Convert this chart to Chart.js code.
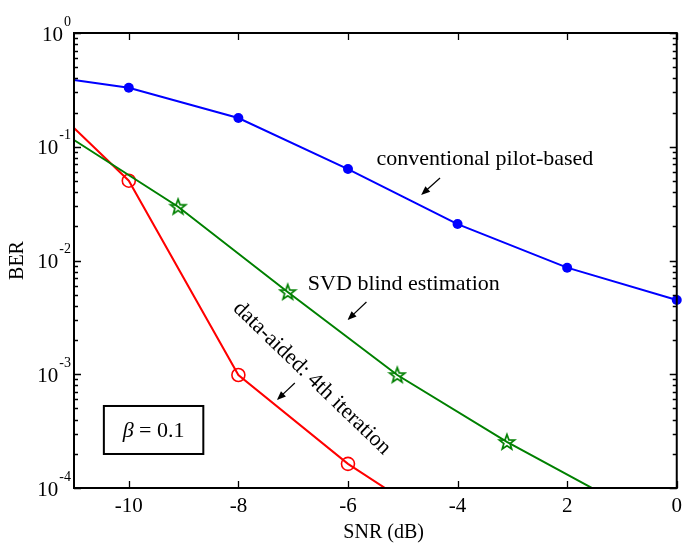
<!DOCTYPE html>
<html><head><meta charset="utf-8">
<script src="https://cdn.jsdelivr.net/npm/chart.js@4/dist/chart.umd.min.js"></script>
<style>html,body{margin:0;padding:0;background:#fff}#wrap{width:688px;height:544px}</style>
</head><body><div id="wrap"><canvas id="c" width="688" height="544"></canvas></div>
<script>
// ---- data ----
const xTickValues = [-10, -8, -6, -4, -2, 0];
const xTickLabels = ['-10', '-8', '-6', '-4', '2', '0'];
const yDecades = [0, -1, -2, -3, -4];

const snrPilot = [-11, -10, -8, -6, -4, -2, 0];
const berPilot = [0.386, 0.33, 0.179, 0.0637, 0.0209, 0.00865, 0.0045];

const snrSVD = [-11, -9.1, -7.1, -5.1, -3.1, -1];
const berSVD = [0.1146, 0.0297, 0.00528, 0.000984, 0.000254, 0.000072];

const snrAided = [-11, -10, -8, -6, -5];
const berAided = [0.146, 0.0503, 0.000985, 0.000163, 0.000079];

const seriesNames = ['conventional pilot-based', 'SVD blind estimation', 'data-aided: 4th iteration'];
const xTitle = 'SNR (dB)';
const betaSymbol = 'β';
const betaText = ' = 0.1';

// ---- annotation placement (data coordinates) ----
const notePilot = {x: -5.48, y: Math.pow(10, -1.16), ax1: -4.32, ay1: Math.pow(10, -1.275), ax2: -4.665, ay2: Math.pow(10, -1.424)};
const noteSVD = {x: -3.23, y: Math.pow(10, -2.259), ax1: -5.663, ay1: Math.pow(10, -2.365), ax2: -6.008, ay2: Math.pow(10, -2.523)};
const noteAided = {x: -6.66, y: Math.pow(10, -3.035), angle: 44, ax1: -6.97, ay1: Math.pow(10, -3.077), ax2: -7.297, ay2: Math.pow(10, -3.226)};
const betaBox = {x1: -10.455, x2: -8.64, y1: Math.pow(10, -3.279), y2: Math.pow(10, -3.701)};
const xTitleCenter = -5.35;

const FONT = 'Liberation Serif, Times New Roman, serif';
const GREEN = '#008000';

function makeStar(color) {
  const c = document.createElement('canvas');
  c.width = 20; c.height = 20;
  const g = c.getContext('2d');
  g.strokeStyle = color; g.lineWidth = 1.7; g.lineJoin = 'miter';
  g.beginPath();
  for (let i = 0; i < 10; i++) {
    const r = (i % 2) ? 3.3 : 8;
    const a = -Math.PI / 2 + i * Math.PI / 5;
    const px = 10 + r * Math.cos(a), py = 10.5 + r * Math.sin(a);
    if (i === 0) g.moveTo(px, py); else g.lineTo(px, py);
  }
  g.closePath(); g.stroke();
  return c;
}
const starImg = makeStar(GREEN);

function pts(xs, ys) { return xs.map((x, i) => ({x: x, y: ys[i]})); }

function arrow(ctx, x1, y1, x2, y2) {
  ctx.save();
  ctx.strokeStyle = '#000'; ctx.fillStyle = '#000'; ctx.lineWidth = 1.2;
  const ang = Math.atan2(y2 - y1, x2 - x1);
  const L = 9, W = 3.6;
  ctx.beginPath(); ctx.moveTo(x1, y1);
  ctx.lineTo(x2 - (L - 2) * Math.cos(ang), y2 - (L - 2) * Math.sin(ang)); ctx.stroke();
  ctx.beginPath();
  ctx.moveTo(x2, y2);
  ctx.lineTo(x2 - L * Math.cos(ang) + W * Math.sin(ang), y2 - L * Math.sin(ang) - W * Math.cos(ang));
  ctx.lineTo(x2 - L * Math.cos(ang) - W * Math.sin(ang), y2 - L * Math.sin(ang) + W * Math.cos(ang));
  ctx.closePath(); ctx.fill();
  ctx.restore();
}

const framePlugin = {
  id: 'frame',
  afterDraw(chart) {
    const ctx = chart.ctx;
    const xs = chart.scales.x, ys = chart.scales.y;
    const a = chart.chartArea;
    ctx.save();
    ctx.strokeStyle = '#000'; ctx.lineWidth = 1.3;
    // ticks
    ctx.beginPath();
    xTickValues.forEach(v => {
      const px = Math.round(xs.getPixelForValue(v)) + 0.5;
      ctx.moveTo(px, a.bottom); ctx.lineTo(px, a.bottom - 7);
      ctx.moveTo(px, a.top); ctx.lineTo(px, a.top + 7);
    });
    for (let k = -4; k <= 0; k++) {
      const py = Math.round(ys.getPixelForValue(Math.pow(10, k))) + 0.5;
      ctx.moveTo(a.left, py); ctx.lineTo(a.left + 7, py);
      ctx.moveTo(a.right, py); ctx.lineTo(a.right - 7, py);
      if (k < 0) {
        for (let m = 2; m <= 9; m++) {
          const q = Math.round(ys.getPixelForValue(m * Math.pow(10, k))) + 0.5;
          ctx.moveTo(a.left, q); ctx.lineTo(a.left + 4, q);
          ctx.moveTo(a.right, q); ctx.lineTo(a.right - 4, q);
        }
      }
    }
    ctx.stroke();
    // box
    ctx.lineWidth = 2;
    ctx.strokeRect(a.left, a.top, a.right - a.left, a.bottom - a.top);

    // y tick labels 10^k
    ctx.fillStyle = '#000';
    ctx.textBaseline = 'middle';
    yDecades.forEach(k => {
      const py = ys.getPixelForValue(Math.pow(10, k));
      ctx.font = '14px ' + FONT;
      const e = String(k);
      const ew = ctx.measureText(e).width;
      ctx.textAlign = 'right';
      ctx.fillText(e, 71, py - 11);
      ctx.font = '21px ' + FONT;
      ctx.fillText('10', 71 - ew - 1, py + 2);
    });

    // x title
    ctx.font = '20px ' + FONT;
    ctx.textAlign = 'center';
    ctx.fillText(xTitle, xs.getPixelForValue(xTitleCenter), a.bottom + 45);

    // annotations
    ctx.font = '22px ' + FONT;
    ctx.textBaseline = 'alphabetic';
    ctx.textAlign = 'left';
    ctx.fillText(seriesNames[0], xs.getPixelForValue(notePilot.x), ys.getPixelForValue(notePilot.y));
    arrow(ctx, xs.getPixelForValue(notePilot.ax1), ys.getPixelForValue(notePilot.ay1), xs.getPixelForValue(notePilot.ax2), ys.getPixelForValue(notePilot.ay2));

    ctx.textAlign = 'right';
    ctx.fillText(seriesNames[1], xs.getPixelForValue(noteSVD.x), ys.getPixelForValue(noteSVD.y));
    arrow(ctx, xs.getPixelForValue(noteSVD.ax1), ys.getPixelForValue(noteSVD.ay1), xs.getPixelForValue(noteSVD.ax2), ys.getPixelForValue(noteSVD.ay2));

    ctx.save();
    ctx.translate(xs.getPixelForValue(noteAided.x), ys.getPixelForValue(noteAided.y));
    ctx.rotate(noteAided.angle * Math.PI / 180);
    ctx.textAlign = 'center'; ctx.textBaseline = 'middle';
    ctx.fillText(seriesNames[2], 0, 0);
    ctx.restore();
    arrow(ctx, xs.getPixelForValue(noteAided.ax1), ys.getPixelForValue(noteAided.ay1), xs.getPixelForValue(noteAided.ax2), ys.getPixelForValue(noteAided.ay2));

    // beta box
    const bx1 = xs.getPixelForValue(betaBox.x1), bx2 = xs.getPixelForValue(betaBox.x2);
    const by1 = ys.getPixelForValue(betaBox.y1), by2 = ys.getPixelForValue(betaBox.y2);
    ctx.lineWidth = 2;
    ctx.strokeRect(bx1, by1, bx2 - bx1, by2 - by1);
    ctx.textBaseline = 'middle'; ctx.textAlign = 'left';
    ctx.font = 'italic 22px ' + FONT;
    const w1 = ctx.measureText(betaSymbol).width;
    ctx.font = '22px ' + FONT;
    const w2 = ctx.measureText(betaText).width;
    const cx = (bx1 + bx2) / 2, cy = (by1 + by2) / 2 + 1;
    let sx = cx - (w1 + w2) / 2;
    ctx.font = 'italic 22px ' + FONT;
    ctx.fillText(betaSymbol, sx, cy);
    ctx.font = '22px ' + FONT;
    ctx.fillText(betaText, sx + w1, cy);
    ctx.restore();
  }
};

new Chart(document.getElementById('c'), {
  type: 'line',
  data: {
    datasets: [
      {
        label: seriesNames[0], data: pts(snrPilot, berPilot),
        borderColor: '#0000ff', backgroundColor: '#0000ff', borderWidth: 2,
        pointRadius: snrPilot.map((v, i) => i === 0 ? 0 : 5), pointBorderWidth: 0,
        pointBackgroundColor: '#0000ff', tension: 0, clip: 8
      },
      {
        label: seriesNames[1], data: pts(snrSVD, berSVD),
        borderColor: GREEN, borderWidth: 2,
        pointStyle: starImg,
        pointRadius: snrSVD.map((v, i) => (i === 0 || i === snrSVD.length - 1) ? 0 : 7),
        tension: 0, clip: 1
      },
      {
        label: seriesNames[2], data: pts(snrAided, berAided),
        borderColor: '#ff0000', borderWidth: 2,
        pointRadius: snrAided.map((v, i) => (i === 0 || i === snrAided.length - 1) ? 0 : 6.5),
        pointBorderWidth: 1.6, pointBorderColor: '#ff0000', pointBackgroundColor: 'rgba(0,0,0,0)',
        tension: 0, clip: 1
      }
    ]
  },
  options: {
    responsive: false, animation: false, devicePixelRatio: 1,
    layout: {padding: {top: 33, right: 8, left: 0, bottom: 0}},
    plugins: {legend: {display: false}, tooltip: {enabled: false}},
    scales: {
      x: {
        type: 'linear', min: -11, max: 0,
        afterBuildTicks: s => { s.ticks = xTickValues.map(v => ({value: v})); },
        ticks: {
          callback: v => xTickLabels[xTickValues.indexOf(v)],
          font: {family: FONT, size: 21}, color: '#000', padding: 6,
          maxRotation: 0, autoSkip: false
        },
        grid: {display: false, drawTicks: false}, border: {display: false},
        title: {display: false},
        afterFit: s => { s.height = 56; }
      },
      y: {
        type: 'logarithmic', min: 1e-4, max: 1,
        ticks: {display: false},
        grid: {display: false, drawTicks: false}, border: {display: false},
        title: {display: true, text: 'BER', font: {family: FONT, size: 20}, color: '#000', padding: {top: 6, bottom: 0}},
        afterFit: s => { s.width = 74; }
      }
    }
  },
  plugins: [framePlugin]
});
</script>
</body></html>
